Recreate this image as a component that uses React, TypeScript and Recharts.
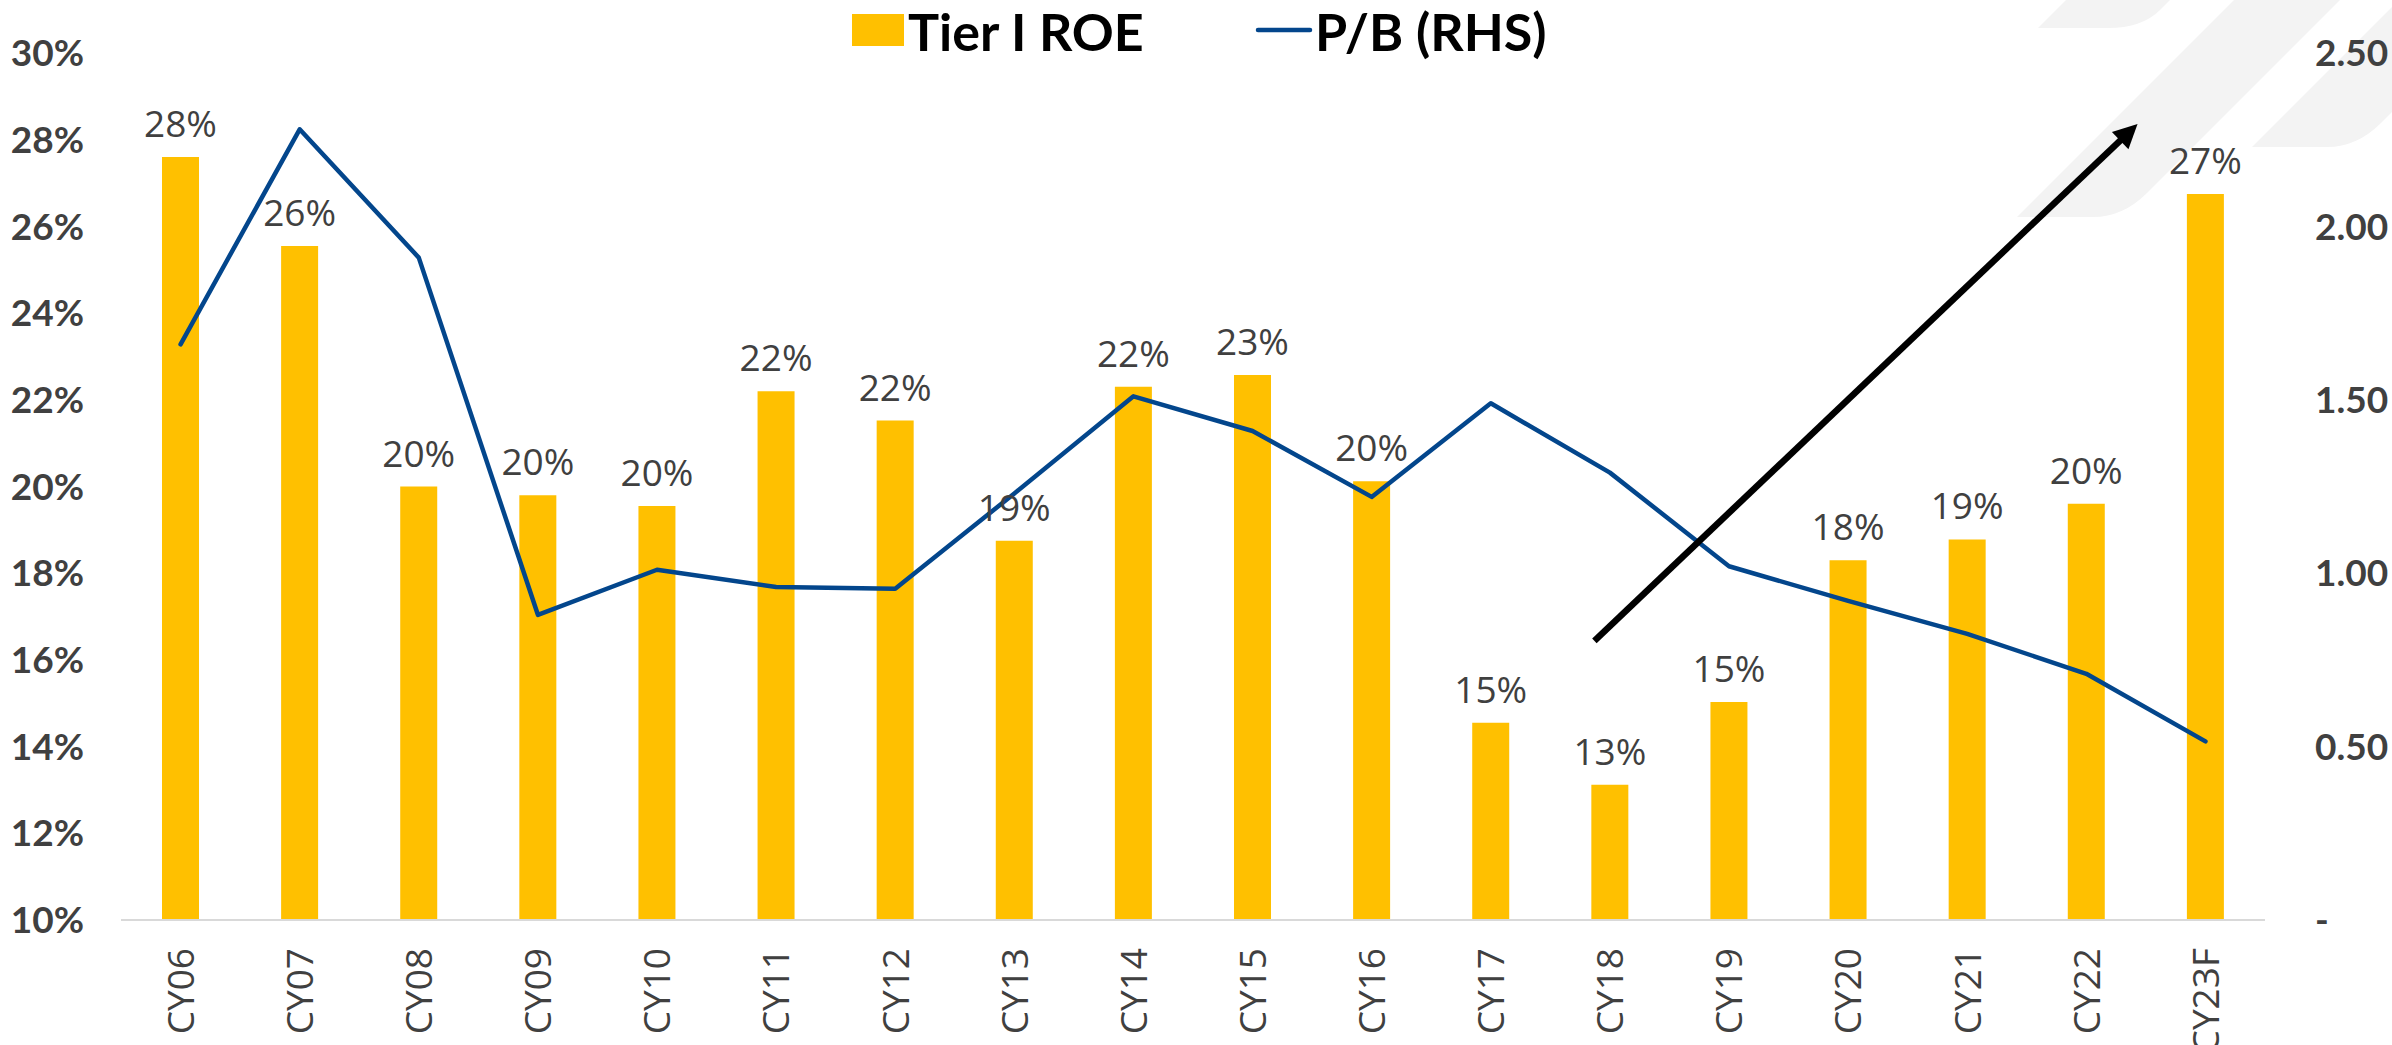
import React from 'react';
import { ComposedChart, Bar, Line, XAxis, YAxis, Legend, LabelList } from 'recharts';

// ---------- data ----------
const categories = ['CY06', 'CY07', 'CY08', 'CY09', 'CY10', 'CY11', 'CY12', 'CY13', 'CY14', 'CY15', 'CY16', 'CY17', 'CY18', 'CY19', 'CY20', 'CY21', 'CY22', 'CY23F'];
const tierOneRoe = [27.6, 25.55, 20.0, 19.8, 19.55, 22.2, 21.52, 18.75, 22.3, 22.57, 20.12, 14.55, 13.12, 15.03, 18.3, 18.78, 19.6, 26.75];
const priceToBook = [1.66, 2.28, 1.91, 0.88, 1.01, 0.96, 0.955, 1.23, 1.51, 1.41, 1.22, 1.49, 1.29, 1.02, 0.92, 0.825, 0.71, 0.515];
const leftTicks = [10, 12, 14, 16, 18, 20, 22, 24, 26, 28, 30];
const rightTicks = [0, 0.5, 1, 1.5, 2, 2.5];
const seriesNames = ['Tier I ROE', 'P/B (RHS)'];
// trend arrow annotation, in data units: [category band position, ROE %]
const arrowFrom = [12.37, 16.44];
const arrowTo = [16.93, 28.36];

const data = categories.map((c, i) => ({ cat: c, roe: tierOneRoe[i], pb: priceToBook[i] }));

// ---------- layout ----------
const W = 2392;
const H = 1045;
const LEFT_AXIS_W = 121;
const RIGHT_AXIS_W = 127;
const TOP = 53;
const X_AXIS_H = 125;
const PLOT_L = LEFT_AXIS_W;
const PLOT_W = W - LEFT_AXIS_W - RIGHT_AXIS_W;
const PLOT_T = TOP;
const PLOT_H = H - TOP - X_AXIS_H;
const PLOT_B = PLOT_T + PLOT_H;

const BAR_COLOR = '#FFC000';
const LINE_COLOR = '#03468C';
const TEXT_GRAY = '#404040';

const toPx = (band: number) => PLOT_L + (band * PLOT_W) / categories.length;
const toPy = (v: number) => PLOT_B - ((v - leftTicks[0]) / (leftTicks[leftTicks.length - 1] - leftTicks[0])) * PLOT_H;

const XTick = (props: any) => {
  const { x, y, payload } = props;
  return (
    <text
      transform={`translate(${x},${y}) rotate(-90)`}
      textAnchor="end"
      dy="0.36em"
      fill={TEXT_GRAY}
      fontFamily="'Open Sans', sans-serif"
      fontSize={37}
    >
      {payload.value}
    </text>
  );
};

const LegendContent = () => (
  <svg width={W} height={80} style={{ display: 'block', overflow: 'visible' }}>
    <rect x={852} y={14} width={52} height={32} fill={BAR_COLOR} />
    <text x={908} y={51} fontFamily="Lato, sans-serif" fontWeight={700} fontSize={52} fill="#000">
      {seriesNames[0]}
    </text>
    <line x1={1258} y1={30} x2={1310} y2={30} stroke={LINE_COLOR} strokeWidth={4.5} strokeLinecap="round" />
    <text x={1315} y={51} fontFamily="Lato, sans-serif" fontWeight={700} fontSize={52} fill="#000">
      {seriesNames[1]}
    </text>
  </svg>
);

const Watermark = () => {
  const fill = '#f3f3f3';
  return (
    <svg width={W} height={H} style={{ position: 'absolute', left: 0, top: 0 }}>
      <path d="M2038,28 L2108,28 Q2142,28 2160,10 L2170,0 L2066,0 Z" fill={fill} />
      <path d="M2017,217 L2093,217 Q2123,217 2147,193 L2340,0 L2234,0 Z" fill={fill} />
      <path d="M2252,147 L2327,147 Q2357,147 2381,123 L2392,112 L2392,7 Z" fill={fill} />
    </svg>
  );
};

const Arrow = () => {
  const x1 = toPx(arrowFrom[0]);
  const y1 = toPy(arrowFrom[1]);
  const x2 = toPx(arrowTo[0]);
  const y2 = toPy(arrowTo[1]);
  const dx = x2 - x1;
  const dy = y2 - y1;
  const len = Math.sqrt(dx * dx + dy * dy);
  const ux = dx / len;
  const uy = dy / len;
  const headLen = 24;
  const headHalf = 12;
  const bx = x2 - ux * headLen;
  const by = y2 - uy * headLen;
  const p1 = `${bx - uy * headHalf},${by + ux * headHalf}`;
  const p2 = `${bx + uy * headHalf},${by - ux * headHalf}`;
  return (
    <svg width={W} height={H} style={{ position: 'absolute', left: 0, top: 0, pointerEvents: 'none' }}>
      <line x1={x1} y1={y1} x2={bx + ux * 4} y2={by + uy * 4} stroke="#000" strokeWidth={6.5} />
      <polygon points={`${x2},${y2} ${p1} ${p2}`} fill="#000" />
    </svg>
  );
};

export default function App() {
  return (
    <div style={{ position: 'absolute', left: 0, top: 0, width: W, height: H, background: '#fff', overflow: 'hidden' }}>
      <Watermark />
      <div style={{ position: 'absolute', left: 0, top: 0 }}>
        <ComposedChart width={W} height={H} data={data} margin={{ top: TOP, right: 0, bottom: 0, left: 0 }} barCategoryGap={0}>
          <XAxis
            dataKey="cat"
            xAxisId="x"
            height={X_AXIS_H}
            interval={0}
            tickLine={false}
            tickSize={0}
            tickMargin={28}
            axisLine={{ stroke: '#d9d9d9', strokeWidth: 2 }}
            tick={<XTick />}
          />
          <YAxis
            yAxisId="left"
            width={LEFT_AXIS_W}
            domain={[leftTicks[0], leftTicks[leftTicks.length - 1]]}
            ticks={leftTicks}
            interval={0}
            tickFormatter={(v: number) => `${v}%`}
            axisLine={false}
            tickLine={false}
            tickSize={0}
            tickMargin={37}
            tick={{ fill: TEXT_GRAY, fontFamily: 'Lato, sans-serif', fontWeight: 700, fontSize: 37 }}
          />
          <YAxis
            yAxisId="right"
            orientation="right"
            width={RIGHT_AXIS_W}
            domain={[rightTicks[0], rightTicks[rightTicks.length - 1]]}
            ticks={rightTicks}
            interval={0}
            tickFormatter={(v: number) => (v === 0 ? '-' : v.toFixed(2))}
            axisLine={false}
            tickLine={false}
            tickSize={0}
            tickMargin={50}
            tick={{ fill: TEXT_GRAY, fontFamily: 'Lato, sans-serif', fontWeight: 700, fontSize: 37, textAnchor: 'start' }}
          />
          <Legend
            layout="horizontal"
            verticalAlign="middle"
            align="center"
            wrapperStyle={{ position: 'absolute', top: 0, left: 0, width: W, height: 80 }}
            content={<LegendContent />}
          />
          <Bar dataKey="roe" name={seriesNames[0]} xAxisId="x" yAxisId="left" fill={BAR_COLOR} barSize={37} isAnimationActive={false}>
            <LabelList
              dataKey="roe"
              position="top"
              offset={20}
              formatter={(v: any) => `${Math.round(Number(v))}%`}
              fill={TEXT_GRAY}
              fontFamily="'Open Sans', sans-serif"
              fontSize={37}
            />
          </Bar>
          <Line
            dataKey="pb"
            name={seriesNames[1]}
            xAxisId="x"
            yAxisId="right"
            type="linear"
            stroke={LINE_COLOR}
            strokeWidth={4.5}
            strokeLinejoin="round"
            strokeLinecap="round"
            dot={false}
            activeDot={false}
            isAnimationActive={false}
          />
        </ComposedChart>
      </div>
      <Arrow />
    </div>
  );
}
